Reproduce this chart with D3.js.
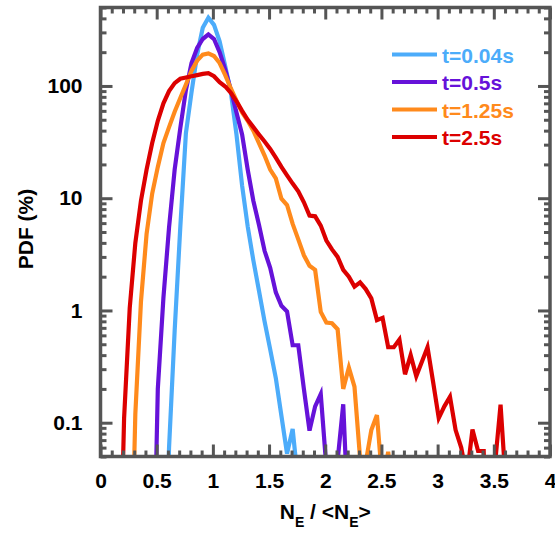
<!DOCTYPE html>
<html>
<head>
<meta charset="utf-8">
<script src="https://cdn.jsdelivr.net/npm/d3@7"></script>
<style>
  body { margin: 0; background: #fff; }
  svg text { font-family: "Liberation Sans", Arial, sans-serif; font-weight: bold; }
</style>
</head>
<body>
<svg id="chart" width="555" height="533"></svg>
<script>
// Bin centres of the normalised electron-number histogram
const bins = [
  0.16, 0.21, 0.26, 0.31, 0.36, 0.41, 0.46, 0.51, 0.56, 0.61,
  0.66, 0.71, 0.76, 0.81, 0.86, 0.91, 0.96, 1.01, 1.06, 1.11,
  1.16, 1.21, 1.26, 1.31, 1.36, 1.41, 1.46, 1.51, 1.56, 1.61,
  1.66, 1.71, 1.76, 1.81, 1.86, 1.91, 1.96, 2.01, 2.06, 2.11,
  2.16, 2.21, 2.26, 2.31, 2.36, 2.41, 2.46, 2.51, 2.56, 2.61,
  2.66, 2.71, 2.76, 2.81, 2.86, 2.91, 2.96, 3.01, 3.06, 3.11,
  3.16, 3.21, 3.26, 3.31, 3.36, 3.41, 3.46, 3.51, 3.56, 3.61
];

// PDF (%) per bin; null = outside the sampled range, 0 = empty bin
const pdfT004 = [
  null, null, null, null, null, null, null, null, 0, 0.06,
  0.66, 5.5, 38, 88, 190, 330, 405, 350, 250, 150,
  88, 37, 13, 5.6, 2.8, 1.5, 0.8, 0.45, 0.25, 0.115,
  0.053, 0.088, 0.028, null, null, null, null, null, null, null,
  null, null, null, null, null, null, null, null, null, null,
  null, null, null, null, null, null, null, null, null, null,
  null, null, null, null, null, null, null, null, null, null
];
const pdfT05 = [
  null, null, null, null, null, null, 0, 0.2, 1.3, 5.5,
  18, 42, 92, 160, 218, 262, 288, 262, 200, 140,
  92, 58, 37, 18, 9.5, 5.8, 3.4, 2.4, 1.45, 1.1,
  0.98, 0.49, 0.49, 0.2, 0.085, 0.14, 0.18, 0.04, 0.02, 0.046,
  0.146, 0.01, null, null, null, null, null, null, null, null,
  null, null, null, null, null, null, null, null, null, null,
  null, null, null, null, null, null, null, null, null, null
];
const pdfT125 = [
  null, null, 0, 0.12, 1.2, 4.8, 11, 19, 31, 43,
  59, 78, 103, 137, 168, 190, 195, 185, 160, 125,
  95, 74, 58, 49, 40, 31, 24, 18, 15, 9.9,
  8.7, 5.9, 4.3, 3.1, 2.5, 2.3, 0.97, 0.78, 0.77, 0.68,
  0.2, 0.31, 0.21, 0.048, 0.044, 0.086, 0.117, 0.028, 0.055, 0.02,
  null, null, null, null, null, null, null, null, null, null,
  null, null, null, null, null, null, null, null, null, null
];
const pdfT25 = [
  0, 0.11, 1.05, 4, 9.5, 18, 31, 49, 70, 90,
  106, 116, 119, 122, 125, 128, 130, 122, 108, 99,
  87, 73, 60, 50, 43, 37, 32, 27.5, 23, 19,
  16, 13.5, 11.5, 9.2, 7.0, 6.9, 5.7, 4.2, 3.5, 3.0,
  2.3, 2.0, 1.63, 1.78, 1.55, 1.28, 0.82, 0.86, 0.47, 0.47,
  0.55, 0.27, 0.40, 0.26, 0.35, 0.47, 0.23, 0.11, 0.14, 0.17,
  0.086, 0.06, 0.033, 0.087, 0.056, 0.056, 0, 0.042, 0.145, 0.025
];

const seriesNames = ["t=0.04s", "t=0.5s", "t=1.25s", "t=2.5s"];
const seriesValues = [pdfT004, pdfT05, pdfT125, pdfT25];
const seriesColors = ["#4cacfa", "#6612d9", "#ff8a1c", "#dc0000"];

const xTickLabels = [0, 0.5, 1, 1.5, 2, 2.5, 3, 3.5, 4];
const yTickLabels = [0.1, 1, 10, 100];

const svg = d3.select("#chart");
const plotLeft = 100.5, plotRight = 550, plotTop = 7.5, plotBottom = 456.5;
const axisColor = "#555555";

const x = d3.scaleLinear().domain([0, 4]).range([plotLeft, plotRight]);
const y = d3.scaleLog().domain([0.05, 500]).range([plotBottom, plotTop]);

// Empty bins sit far below the visible range so their segments plunge off the frame
const floorValue = 0.001;

svg.append("defs").append("clipPath").attr("id", "plotClip")
  .append("rect")
  .attr("x", plotLeft).attr("y", plotTop)
  .attr("width", plotRight - plotLeft).attr("height", plotBottom - plotTop);

const line = d3.line()
  .defined(d => d.v !== null)
  .x(d => x(d.x))
  .y(d => y(Math.max(d.v, floorValue)));

const plot = svg.append("g").attr("clip-path", "url(#plotClip)");
seriesValues.forEach((vals, i) => {
  const pts = bins.map((b, j) => ({ x: b, v: vals[j] }));
  plot.append("path")
    .datum(pts)
    .attr("fill", "none")
    .attr("stroke", seriesColors[i])
    .attr("stroke-width", 4.2)
    .attr("stroke-linejoin", "miter")
    .attr("d", line);
});

// Axes: all ticks point into the frame
const majorX = x.ticks(8);
const minorX = x.ticks(40).filter(t => Math.abs(t * 2 - Math.round(t * 2)) > 1e-6);
const isDecade = t => Math.abs(Math.log10(t) - Math.round(Math.log10(t))) < 1e-6;
const majorY = y.ticks().filter(isDecade);
const minorY = y.ticks().filter(t => !isDecade(t));

function styleAxis(g) {
  g.select(".domain").remove();
  g.selectAll(".tick line").attr("stroke", axisColor).attr("stroke-width", 3);
  g.selectAll(".tick text").attr("fill", "#000").style("font-size", "21px");
}

const fmt = d3.format("~g");

svg.append("g").attr("transform", `translate(0,${plotBottom})`)
  .call(d3.axisBottom(x).tickValues(minorX).tickSize(-6).tickFormat(""))
  .call(styleAxis);
svg.append("g").attr("transform", `translate(0,${plotBottom})`)
  .call(d3.axisBottom(x).tickValues(majorX).tickSize(-12).tickPadding(17)
    .tickFormat((d, i) => fmt(xTickLabels[i])))
  .call(styleAxis);

svg.append("g").attr("transform", `translate(0,${plotTop})`)
  .call(d3.axisTop(x).tickValues(minorX).tickSize(-6).tickFormat(""))
  .call(styleAxis);
svg.append("g").attr("transform", `translate(0,${plotTop})`)
  .call(d3.axisTop(x).tickValues(majorX).tickSize(-12).tickFormat(""))
  .call(styleAxis);

svg.append("g").attr("transform", `translate(${plotLeft},0)`)
  .call(d3.axisLeft(y).tickValues(minorY).tickSize(-6).tickFormat(""))
  .call(styleAxis);
svg.append("g").attr("transform", `translate(${plotLeft},0)`)
  .call(d3.axisLeft(y).tickValues(yTickLabels).tickSize(-12).tickPadding(18)
    .tickFormat(fmt))
  .call(styleAxis);

svg.append("g").attr("transform", `translate(${plotRight},0)`)
  .call(d3.axisRight(y).tickValues(minorY).tickSize(-6).tickFormat(""))
  .call(styleAxis);
svg.append("g").attr("transform", `translate(${plotRight},0)`)
  .call(d3.axisRight(y).tickValues(majorY).tickSize(-12).tickFormat(""))
  .call(styleAxis);

// Frame
svg.append("rect")
  .attr("x", plotLeft).attr("y", plotTop)
  .attr("width", plotRight - plotLeft).attr("height", plotBottom - plotTop)
  .attr("fill", "none").attr("stroke", axisColor).attr("stroke-width", 3.5);

// Axis titles
svg.append("text")
  .attr("transform", `translate(33,229) rotate(-90)`)
  .attr("text-anchor", "middle")
  .style("font-size", "21px")
  .text("PDF (%)");

const xt = svg.append("text")
  .attr("x", (plotLeft + plotRight) / 2).attr("y", 519)
  .attr("text-anchor", "middle")
  .style("font-size", "21px");
xt.append("tspan").text("N");
xt.append("tspan").attr("dy", 8).style("font-size", "14px").text("E");
xt.append("tspan").attr("dy", -8).text(" / <N");
xt.append("tspan").attr("dy", 8).style("font-size", "14px").text("E");
xt.append("tspan").attr("dy", -8).text(">");

// Legend
const legend = svg.append("g");
seriesNames.forEach((name, i) => {
  const ly = 54.5 + i * 27.5;
  legend.append("line")
    .attr("x1", 392).attr("x2", 437).attr("y1", ly).attr("y2", ly)
    .attr("stroke", seriesColors[i]).attr("stroke-width", 4.2);
  legend.append("text")
    .attr("x", 442).attr("y", ly + 8)
    .attr("fill", seriesColors[i])
    .style("font-size", "21px")
    .text(name);
});
</script>
</body>
</html>
